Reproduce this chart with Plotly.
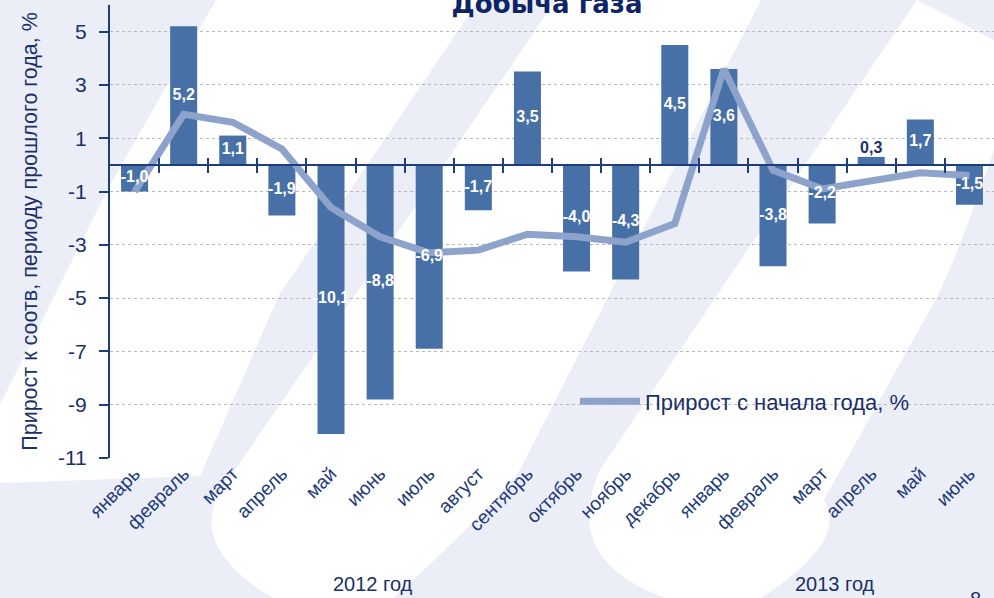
import plotly.graph_objects as go

months = ["январь", "февраль", "март", "апрель", "май", "июнь", "июль", "август",
          "сентябрь", "октябрь", "ноябрь", "декабрь",
          "январь", "февраль", "март", "апрель", "май", "июнь"]
monthly_growth = [-1.0, 5.2, 1.1, -1.9, -10.1, -8.8, -6.9, -1.7, 3.5, -4.0, -4.3, 4.5,
                  3.6, -3.8, -2.2, 0.3, 1.7, -1.5]
ytd_growth = [-1.0, 1.9, 1.6, 0.6, -1.6, -2.7, -3.3, -3.2, -2.6, -2.7, -2.9, -2.2,
              3.6, -0.2, -0.9, -0.6, -0.3, -0.4]
y_ticks = [5, 3, 1, -1, -3, -5, -7, -9, -11]

NAVY = "#1b2f6b"
BAR = "#4670a6"
LINE = "#8da3cb"
AXIS = "#1e3d7b"
PALE = "#ebeef6"
FONT = "Liberation Sans, Arial, sans-serif"

W, H = 994, 598
ML, MR, MT, MB = 110, 0, 5, 140
PW, PH = W - ML - MR, H - MT - MB

xs = list(range(len(months)))
labels = [f"{v:.1f}".replace(".", ",") for v in monthly_growth]
small = [abs(v) < 0.5 for v in monthly_growth]

fig = go.Figure()
fig.add_trace(go.Bar(
    x=xs, y=monthly_growth, marker=dict(color=BAR, line=dict(width=0)),
    width=0.55, showlegend=False, hoverinfo="skip",
))
fig.add_trace(go.Scatter(
    x=xs, y=ytd_growth, mode="lines", name="Прирост с начала года, %",
    line=dict(color=LINE, width=7), showlegend=True,
))
# value labels drawn above the line: centred in the bar, or above a tiny bar
fig.add_trace(go.Scatter(
    x=xs, y=[v if s else v / 2 for v, s in zip(monthly_growth, small)],
    mode="text", text=labels,
    textposition=["top center" if s else "middle center" for s in small],
    textfont=dict(color=[NAVY if s else "white" for s in small], size=16,
                  family=FONT, weight="bold"),
    showlegend=False, hoverinfo="skip", cliponaxis=False,
))
# helper invisible traces for the zero axes
fig.add_trace(go.Scatter(x=[0], y=[0], xaxis="x2", mode="markers",
                         marker=dict(opacity=0), showlegend=False, hoverinfo="skip"))
fig.add_trace(go.Scatter(x=[0], y=[0], xaxis="x3", mode="markers",
                         marker=dict(opacity=0), showlegend=False, hoverinfo="skip"))

y_min, y_max = -11, 6
zero_pos = (0 - y_min) / (y_max - y_min)
boundaries = [i + 0.5 for i in range(len(months) - 1)]
xr = [-0.5, len(months) - 0.5]


def px_path(cmds):
    """Build an SVG path in paper coords from figure-pixel coordinates."""
    out = []
    for c in cmds:
        if isinstance(c, str):
            out.append(c)
        else:
            px, py = c
            out.append(f"{(px - ML) / PW:.4f},{(H - MB - py) / PH:.4f}")
    return " ".join(out)


watermark = [
    ["M", (0, 0), "L", (216, 0), "L", (110, 185), "L", (0, 405), "Z"],
    ["M", (479, 0), "L", (556, 0), "L", (355, 295), "L", (233, 473),
     "Q", (175, 540), (273, 598), "L", (0, 598), "L", (0, 483), "L", (200, 476),
     "L", (279, 295), "Z"],
    ["M", (761, 0), "L", (917, 0), "L", (717, 295), "L", (600, 470),
     "Q", (560, 560), (666, 598), "L", (393, 598), "Q", (480, 520), (520, 470),
     "L", (609, 295), "Z"],
    ["M", (994, 150), "L", (994, 598), "L", (761, 598), "Q", (850, 540), (824, 500),
     "L", (938, 295), "Q", (960, 250), (994, 150), "Z"],
    ["M", (917, 0), "L", (994, 0), "L", (994, 40), "Z"],
]
shapes = [dict(type="path", xref="paper", yref="paper", path=px_path(p),
               fillcolor=PALE, line=dict(width=0), layer="below") for p in watermark]

fig.update_layout(
    width=W, height=H,
    margin=dict(l=ML, r=MR, t=MT, b=MB, autoexpand=False),
    paper_bgcolor="white", plot_bgcolor="rgba(0,0,0,0)",
    font=dict(family=FONT, color=NAVY),
    shapes=shapes,
    xaxis=dict(range=xr, tickmode="array", tickvals=xs, automargin=False,
               ticktext=months, tickangle=-45, tickfont=dict(size=19, color="#20397a"),
               showline=False, showgrid=False, zeroline=False, ticks=""),
    xaxis2=dict(range=xr, overlaying="x", anchor="free", automargin=False,
                position=zero_pos, side="bottom", showline=True, linecolor=AXIS,
                linewidth=2, ticks="outside", ticklen=7, tickwidth=2, tickcolor=AXIS,
                tickmode="array", tickvals=boundaries, showticklabels=False,
                showgrid=False, zeroline=False),
    xaxis3=dict(range=xr, overlaying="x", anchor="free", automargin=False,
                position=zero_pos, side="bottom", showline=False,
                ticks="inside", ticklen=7, tickwidth=2, tickcolor=AXIS,
                tickmode="array", tickvals=boundaries, showticklabels=False,
                showgrid=False, zeroline=False),
    yaxis=dict(range=[y_min, y_max], tickmode="array", tickvals=y_ticks, automargin=False,
               ticktext=[str(v) for v in y_ticks], tickfont=dict(size=21, color=NAVY),
               ticklabelstandoff=8,
               showline=True, linecolor=AXIS, linewidth=2,
               ticks="outside", ticklen=9, tickwidth=2, tickcolor=AXIS,
               showgrid=True, gridcolor="#b8b8b8", griddash="dot", gridwidth=1,
               zeroline=False,
               title=dict(text="Прирост к соотв, периоду прошлого года, %",
                          font=dict(size=21.5, color=NAVY), standoff=14)),
    legend=dict(x=0.526, y=0.125, xanchor="left", yanchor="middle",
                bgcolor="rgba(0,0,0,0)", font=dict(size=22, color=NAVY),
                itemwidth=60),
    title=dict(text="<b>Добыча газа</b>", x=547 / W, xref="container", xanchor="center",
               y=1 - 13 / H, yref="container", yanchor="bottom", automargin=False,
               font=dict(size=26, color="#0d2466", family="DejaVu Sans, sans-serif")),
    showlegend=True,
)

fig.add_annotation(text="2012 год", x=(331 - ML) / PW, y=(H - MB - 584) / PH,
                   xref="paper", yref="paper", showarrow=False,
                   font=dict(size=20, color=NAVY), yanchor="middle")
fig.add_annotation(text="2013 год", x=(877 - ML) / PW, y=(H - MB - 584) / PH,
                   xref="paper", yref="paper", showarrow=False,
                   font=dict(size=20, color=NAVY), yanchor="middle")
fig.add_annotation(text="8", x=(975 - ML) / PW, y=(H - MB - 586) / PH,
                   xref="paper", yref="paper", showarrow=False,
                   font=dict(size=20, color=NAVY), xanchor="center", yanchor="top")

fig.write_html("out.html", config={"displayModeBar": False},
               post_script="document.body.style.margin='0';")
